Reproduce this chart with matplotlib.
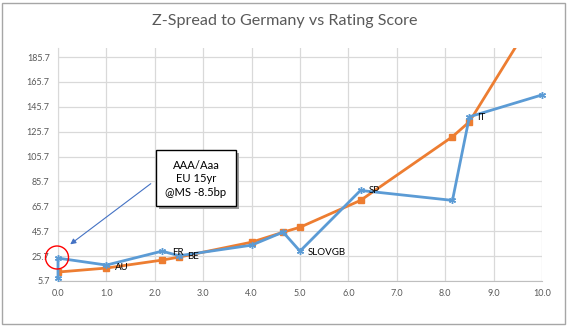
import matplotlib
matplotlib.use("Agg")
import matplotlib.pyplot as plt
from matplotlib.patches import Rectangle, Ellipse, FancyArrowPatch

plt.rcParams['font.family'] = ['Lato', 'DejaVu Sans']

# Data
zs_x = [0.0, 0.0, 1.0, 2.15, 2.5, 4.0, 4.65, 5.0, 6.25, 8.15, 8.5, 10.0]
zs_y = [8.5, 24.1, 18.5, 29.7, 26.0, 34.5, 45.0, 29.7, 78.5, 70.5, 137.7, 155.3]
fit_x = [0.0, 1.0, 2.15, 2.5, 4.0, 4.65, 5.0, 6.25, 8.15, 8.5, 10.0]
fit_y = [12.9, 16.1, 22.5, 24.9, 36.9, 44.9, 48.9, 70.5, 121.7, 133.7, 228.0]
labels = ["AU", "FR", "BE", "SLOVGB", "SP", "IT"]
label_x = [1.18, 2.35, 2.67, 5.17, 6.43, 8.66]
label_y = [16.9, 28.9, 25.7, 28.9, 78.5, 136.9]
yticks = [5.7, 25.7, 45.7, 65.7, 85.7, 105.7, 125.7, 145.7, 165.7, 185.7]
xticks = [0, 1, 2, 3, 4, 5, 6, 7, 8, 9, 10]

fig = plt.figure(figsize=(5.72, 3.29), dpi=100)
W, H = 572, 329

# chart border
fig.patches.append(Rectangle((2 / W, 1 - 324 / H), 563 / W, 321 / H, transform=fig.transFigure,
                             fill=False, edgecolor='#A6A6A6', linewidth=1.0))

ax = fig.add_axes([58 / W, 1 - 281 / H, 484 / W, 233 / H])
ax.set_xlim(0, 10)
ax.set_ylim(5.7, 193)
ax.set_xticks(xticks)
ax.set_xticklabels([f"{v:.1f}" for v in xticks])
ax.set_yticks(yticks)
ax.set_yticklabels([f"{v:.1f}" for v in yticks])
ax.tick_params(length=0, labelsize=6.5, colors='#595959', pad=6)
ax.grid(True, color='#D9D9D9', linewidth=0.9)
ax.set_axisbelow(True)
for s in ['top', 'right']:
    ax.spines[s].set_visible(False)
ax.spines['left'].set_color('#D9D9D9')
ax.spines['bottom'].set_color('#BFBFBF')

ax.plot(fit_x, fit_y, color='#ED7D31', linewidth=2.0, marker='s', markersize=4.5,
        markeredgecolor='#ED7D31', zorder=3)
ax.plot(zs_x, zs_y, color='#5B9BD5', linewidth=2.0, marker=(6, 2, 0), markersize=5,
        markeredgecolor='#5B9BD5', markeredgewidth=1.0, zorder=4, clip_on=False)

for t, x, y in zip(labels, label_x, label_y):
    ax.text(x, y, t, fontsize=7, color='black', ha='left', va='center', zorder=5)

title = fig.text(284.5 / W, 1 - 21 / H, "Z-Spread to Germany vs Rating Score", ha='center', va='center',
                 fontsize=12.3, color='#595959')
r = fig.canvas.get_renderer()
wpx = title.get_window_extent(r).width
title.set_fontsize(12.3 * 267 / wpx)

# annotation box with shadow
bx0, by0, bx1, by1 = 156, 150, 236, 206
fig.patches.append(Rectangle(((bx0 + 3) / W, 1 - (by1 + 3) / H), (bx1 - bx0) / W, (by1 - by0) / H,
                             transform=fig.transFigure, facecolor='#9A9A9A', edgecolor='none', zorder=5))
fig.patches.append(Rectangle((bx0 / W, 1 - by1 / H), (bx1 - bx0) / W, (by1 - by0) / H,
                             transform=fig.transFigure, facecolor='white', edgecolor='black',
                             linewidth=1.0, zorder=6))
ann = fig.text((bx0 + bx1) / 2 / W, 1 - 179 / H, "AAA/Aaa\nEU 15yr\n@MS -8.5bp",
               ha='center', va='center', fontsize=9.5, color='black', linespacing=1.15, zorder=7)
awpx = ann.get_window_extent(r).width
fs = 9.5 * 62 / awpx
ann.set_fontsize(fs)
ann.set_linespacing(15 / (fs * 100 / 72))

# arrow
fig.add_artist(FancyArrowPatch((153 / W, 1 - 182 / H), (68 / W, 1 - 246 / H),
                               transform=fig.transFigure, arrowstyle='-|>',
                               mutation_scale=8, color='#4472C4', linewidth=0.8))
# red circle
fig.add_artist(Ellipse((57 / W, 1 - 257.5 / H), 23 / W, 23 / H, transform=fig.transFigure,
                       fill=False, edgecolor='red', linewidth=1.0))

fig.savefig("out.png", dpi=100)
